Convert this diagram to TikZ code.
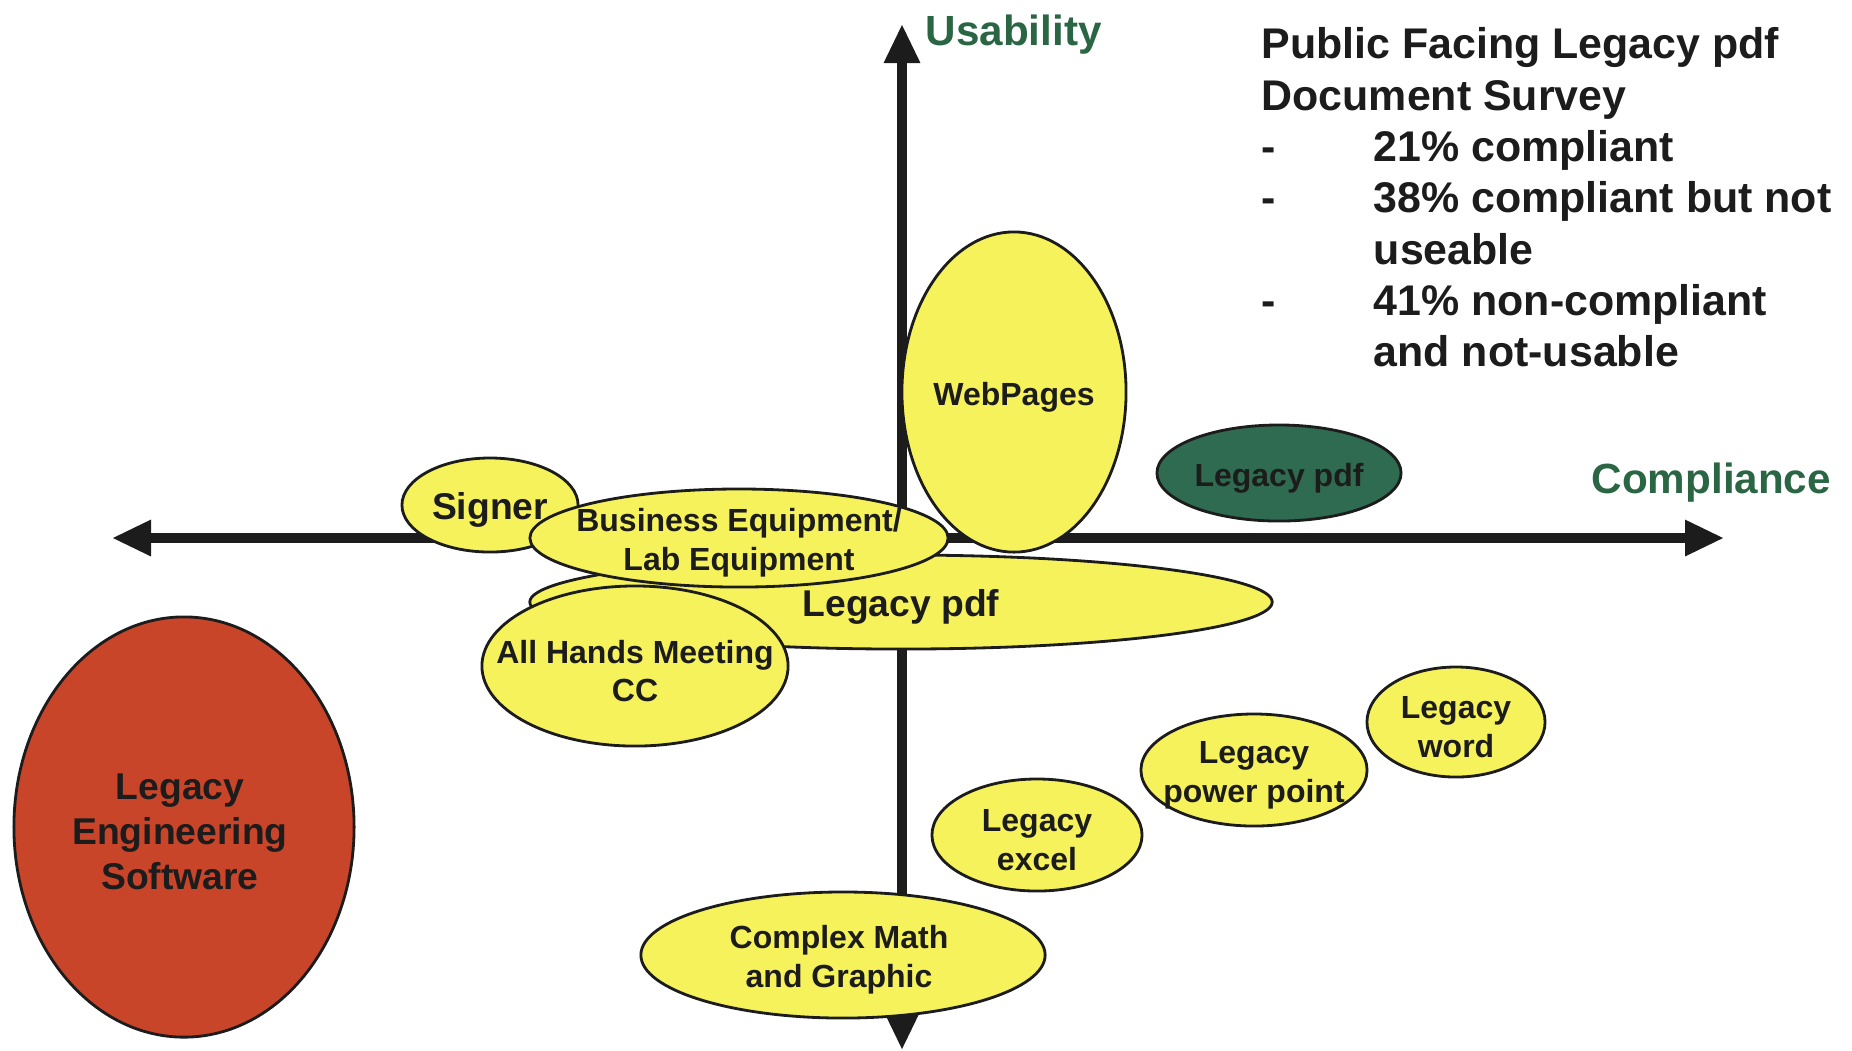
\documentclass[tikz,border=0pt]{standalone}
\usepackage{fontspec}
\setmainfont{Liberation Sans}
\usetikzlibrary{shapes.geometric,arrows.meta}
\definecolor{blobyellow}{HTML}{F6F25C}
\definecolor{blobred}{HTML}{C9452A}
\definecolor{blobgreen}{HTML}{2F6B50}
\definecolor{axisgreen}{HTML}{2A6644}
\definecolor{ink}{HTML}{1C1C1C}

\tikzset{
  blob/.style={ellipse, draw=ink, line width=0.8pt, fill=blobyellow, inner sep=0pt},
  lbl/.style={align=center, text=ink, inner sep=0pt, yshift=-0.05cm, font=\bfseries\fontsize{9.1}{11}\selectfont},
  biglbl/.style={lbl, font=\bfseries\fontsize{10.6}{12.8}\selectfont},
  axis/.style={line width=2.6pt, draw=ink, {Triangle[length=0.39cm,width=0.34cm]}-{Triangle[length=0.39cm,width=0.34cm]}},
  axislbl/.style={text=axisgreen, inner sep=0pt, font=\bfseries\fontsize{12}{14.6}\selectfont},
  survey/.style={align=left, text=ink, inner sep=0pt, font=\bfseries\fontsize{12.2}{14.6}\selectfont},
}

\begin{document}
\begin{tikzpicture}[x=0.01cm, y=-0.01cm]
      \useasboundingbox (0,0) rectangle (1852,1050);
      % Define axes
      \coordinate (west)  at (112,538);
      \coordinate (east)  at (1724,538);
      \coordinate (north) at (902,24);
      \coordinate (south) at (902,1050);
      \draw[axis] (west) -- (east);
      \draw[axis] (south) -- (north);
      \node[axislbl, anchor=base west] (usab) at (925,45) {Usability};
      \node[axislbl, anchor=base west] (compl) at (1591,493) {Compliance};

      % Define ellipses
      \node[blob, fill=blobred, minimum width=3.40cm, minimum height=4.20cm] (eng) at (184,827) {};
      \node[blob, minimum width=7.42cm, minimum height=0.94cm] (pdf) at (901,602) {};
      \node[blob, minimum width=2.24cm, minimum height=3.20cm] (web) at (1014,392) {};
      \node[blob, minimum width=1.76cm, minimum height=0.94cm] (signer) at (490,505) {};
      \node[blob, minimum width=4.18cm, minimum height=0.98cm] (equip) at (739,538) {};
      \node[blob, minimum width=3.06cm, minimum height=1.60cm] (hands) at (635,666) {};
      \node[blob, fill=blobgreen, minimum width=2.44cm, minimum height=0.96cm] (goodpdf) at (1279,473) {};
      \node[blob, minimum width=4.04cm, minimum height=1.26cm] (math) at (843,955) {};
      \node[blob, minimum width=2.10cm, minimum height=1.12cm] (excel) at (1037,835) {};
      \node[blob, minimum width=2.26cm, minimum height=1.12cm] (ppt) at (1254,770) {};
      \node[blob, minimum width=1.78cm, minimum height=1.10cm] (word) at (1456,722) {};

      % Define labels
      \node[biglbl, xshift=-0.04cm] (engL) at (eng) {Legacy\\Engineering\\Software};
      \node[biglbl] (pdfL) at (pdf) {Legacy pdf};
      \node[lbl] (webL) at (web) {WebPages};
      \node[biglbl] (signerL) at (signer) {Signer};
      \node[lbl] (equipL) at (equip) {Business Equipment/\\Lab Equipment};
      \node[lbl] (handsL) at (hands) {All Hands Meeting\\CC};
      \node[lbl] (goodpdfL) at (goodpdf) {Legacy pdf};
      \node[lbl, xshift=-0.04cm] (mathL) at (math) {Complex Math\\and Graphic};
      \node[lbl] (excelL) at (excel) {Legacy\\excel};
      \node[lbl] (pptL) at (ppt) {Legacy\\power point};
      \node[lbl] (wordL) at (word) {Legacy\\word};

      \node[survey, anchor=north west] (survey) at (1261,27) {Public Facing Legacy pdf\\Document Survey\\
        \makebox[1.12cm][l]{-}21\% compliant\\
        \makebox[1.12cm][l]{-}38\% compliant but not\\
        \hspace*{1.12cm}useable\\
        \makebox[1.12cm][l]{-}41\% non-compliant\\
        \hspace*{1.12cm}and not-usable};
    \end{tikzpicture}
\end{document}
